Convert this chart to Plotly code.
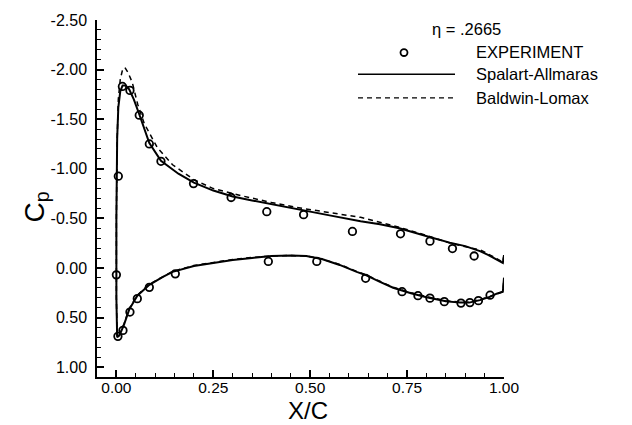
import plotly.graph_objects as go

# ---------------- data ----------------
# Experiment (upper surface)
exp_upper_x = [0.0, 0.005, 0.0155, 0.035, 0.059, 0.085, 0.115, 0.199, 0.296, 0.388, 0.483, 0.609, 0.733, 0.809, 0.867, 0.923]
exp_upper_cp = [0.07, -0.925, -1.83, -1.79, -1.54, -1.25, -1.075, -0.85, -0.71, -0.567, -0.537, -0.368, -0.344, -0.27, -0.195, -0.12]
# Experiment (lower surface)
exp_lower_x = [0.004, 0.017, 0.035, 0.054, 0.085, 0.152, 0.392, 0.517, 0.643, 0.737, 0.778, 0.809, 0.846, 0.889, 0.912, 0.934, 0.964]
exp_lower_cp = [0.69, 0.63, 0.445, 0.31, 0.196, 0.06, -0.065, -0.065, 0.105, 0.24, 0.28, 0.305, 0.34, 0.355, 0.35, 0.33, 0.275]

# Spalart-Allmaras (upper TE -> LE -> lower TE)
sa_x = [1.0, 0.997, 0.96, 0.938, 0.90, 0.86, 0.81, 0.76, 0.73, 0.68, 0.63, 0.55, 0.48, 0.44, 0.39, 0.35, 0.30,
        0.25, 0.20, 0.16, 0.115, 0.085, 0.059, 0.045, 0.033, 0.024, 0.016, 0.010, 0.005, 0.002, 0.0, 0.0,
        0.002, 0.008, 0.02, 0.033, 0.054, 0.085, 0.12, 0.145, 0.2, 0.25, 0.3, 0.35, 0.40, 0.45, 0.49, 0.53,
        0.576, 0.62, 0.645, 0.68, 0.714, 0.76, 0.80, 0.85, 0.886, 0.91, 0.938, 0.965, 0.981, 0.997, 1.0]
sa_cp = [-0.13, -0.05, -0.13, -0.17, -0.22, -0.255, -0.31, -0.37, -0.40, -0.44, -0.47, -0.53, -0.58, -0.61, -0.65, -0.68, -0.72,
         -0.78, -0.86, -0.95, -1.08, -1.26, -1.55, -1.70, -1.80, -1.84, -1.84, -1.78, -1.62, -1.30, -0.5, 0.3,
         0.70, 0.68, 0.57, 0.42, 0.28, 0.17, 0.09, 0.04, -0.02, -0.05, -0.08, -0.10, -0.12, -0.125, -0.12, -0.09,
         -0.03, 0.04, 0.075, 0.14, 0.20, 0.255, 0.295, 0.335, 0.35, 0.35, 0.325, 0.29, 0.26, 0.24, 0.10]

# Baldwin-Lomax
bl_x = [1.0, 0.997, 0.94, 0.86, 0.81, 0.73, 0.63, 0.55, 0.48, 0.40, 0.32, 0.25, 0.20, 0.145, 0.106, 0.072,
        0.055, 0.041, 0.03, 0.022, 0.016, 0.010, 0.005, 0.002, 0.0, 0.0,
        0.002, 0.008, 0.02, 0.033, 0.054, 0.085, 0.12, 0.145, 0.2, 0.25, 0.3, 0.35, 0.40, 0.45, 0.49, 0.53,
        0.576, 0.62, 0.645, 0.68, 0.714, 0.76, 0.80, 0.85, 0.886, 0.91, 0.938, 0.965, 0.981, 0.997, 1.0]
bl_cp = [-0.13, -0.06, -0.18, -0.25, -0.315, -0.41, -0.51, -0.56, -0.60, -0.66, -0.73, -0.80, -0.89, -1.04, -1.21, -1.455,
         -1.65, -1.87, -1.97, -2.02, -2.00, -1.90, -1.70, -1.30, -0.5, 0.3,
         0.70, 0.67, 0.56, 0.41, 0.275, 0.165, 0.085, 0.035, -0.025, -0.055, -0.085, -0.105, -0.12, -0.125, -0.12, -0.09,
         -0.035, 0.035, 0.07, 0.135, 0.195, 0.25, 0.29, 0.33, 0.345, 0.345, 0.32, 0.285, 0.26, 0.24, 0.10]

x_tick_vals = [0.0, 0.25, 0.5, 0.75, 1.0]
x_tick_text = ["0.00", "0.25", "0.50", "0.75", "1.00"]
y_tick_vals = [-2.5, -2.0, -1.5, -1.0, -0.5, 0.0, 0.5, 1.0]
y_tick_text = ["-2.50", "-2.00", "-1.50", "-1.00", "-0.50", "0.00", "0.50", "1.00"]

eta_label = "\u03b7 = .2665"
legend_labels = ["EXPERIMENT", "Spalart-Allmaras", "Baldwin-Lomax"]

# ---------------- figure ----------------
W, H = 632, 425
L, R, T, B = 97, 128, 15, 48
PW, PH = W - L - R, H - T - B
FONT = "Liberation Sans, Arial, Helvetica, sans-serif"


def px(xp):
    return (xp - L) / PW


def py(yp):
    return (H - B - yp) / PH


fig = go.Figure()
fig.add_trace(go.Scatter(x=sa_x, y=sa_cp, mode="lines", name=legend_labels[1],
                         line=dict(color="black", width=2)))
fig.add_trace(go.Scatter(x=bl_x, y=bl_cp, mode="lines", name=legend_labels[2],
                         line=dict(color="black", width=1.5, dash="5px,4px")))
fig.add_trace(go.Scatter(x=exp_upper_x + exp_lower_x, y=exp_upper_cp + exp_lower_cp, mode="markers",
                         name=legend_labels[0],
                         marker=dict(symbol="circle-open", size=7.5, color="black", line=dict(width=1.8, color="black"))))

axis_common = dict(showline=True, linecolor="black", linewidth=1.5, ticks="inside", ticklen=7, tickwidth=1.5,
                   tickcolor="black", showgrid=False, zeroline=False, tickmode="array")

fig.update_layout(
    width=W, height=H, margin=dict(l=L, r=R, t=T, b=B),
    paper_bgcolor="white", plot_bgcolor="white", showlegend=False,
    xaxis=dict(range=[-0.05, 1.0], tickvals=x_tick_vals, ticktext=x_tick_text, ticklabelstandoff=-4,
               tickfont=dict(family=FONT, size=15.5, color="black"),
               minor=dict(tickmode="linear", tick0=0, dtick=0.05, ticks="inside", ticklen=4, tickwidth=1,
                          tickcolor="black", showgrid=False),
               **axis_common),
    yaxis=dict(range=[1.1, -2.5], tickvals=y_tick_vals, ticktext=y_tick_text, ticklabelstandoff=5,
               tickfont=dict(family=FONT, size=16, color="black"),
               minor=dict(tickmode="linear", tick0=0, dtick=0.1, ticks="inside", ticklen=4, tickwidth=1,
                          tickcolor="black", showgrid=False),
               **axis_common),
)

ann_font = dict(family=FONT, size=16.5, color="black")
annotations = [
    dict(text=eta_label, x=px(430), y=py(24), xanchor="left", yanchor="middle", font=ann_font),
    dict(text=legend_labels[0], x=px(474), y=py(47), xanchor="left", yanchor="middle", font=ann_font),
    dict(text=legend_labels[1], x=px(474), y=py(70), xanchor="left", yanchor="middle", font=ann_font),
    dict(text=legend_labels[2], x=px(474), y=py(94), xanchor="left", yanchor="middle", font=ann_font),
    dict(text="X/C", x=px(308), y=py(411), xanchor="center", yanchor="middle",
         font=dict(family=FONT, size=24, color="black")),
    dict(text="C<sub>p</sub>", x=px(36), y=py(205), xanchor="center", yanchor="middle", textangle=-90,
         font=dict(family=FONT, size=28, color="black")),
]
for a in annotations:
    a.update(xref="paper", yref="paper", showarrow=False)
fig.update_layout(annotations=annotations)

shapes = [
    dict(type="circle", x0=px(400.5), x1=px(407.5), y0=py(44.5), y1=py(51.5),
         line=dict(color="black", width=1.8)),
    dict(type="line", x0=px(358), x1=px(455), y0=py(70), y1=py(70), line=dict(color="black", width=1.5)),
    dict(type="line", x0=px(358), x1=px(455), y0=py(94), y1=py(94),
         line=dict(color="black", width=1.3, dash="5px,4px")),
]
for s in shapes:
    s.update(xref="paper", yref="paper")
fig.update_layout(shapes=shapes)

fig.write_html("out.html")
